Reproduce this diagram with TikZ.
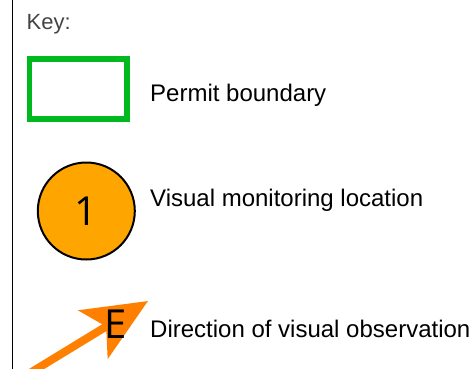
\documentclass[tikz,border=0pt]{standalone}
\usepackage{fontspec}
\setmainfont{Liberation Sans}
\newfontfamily\labfont{Open Sans}
\usetikzlibrary{arrows.meta}
\definecolor{keygray}{HTML}{444444}
\definecolor{permitgreen}{RGB}{0,185,30}
\definecolor{locorange}{HTML}{FFA500}
\definecolor{arroworange}{HTML}{FF8000}
\tikzset{
  keytext/.style={anchor=base west, inner sep=0pt, font=\fontsize{24}{28}\selectfont, text=black},
  keytitle/.style={anchor=base west, inner sep=0pt, font=\fontsize{22}{26}\selectfont, text=keygray},
  permitbox/.style={draw=permitgreen, line width=5.5pt, minimum width=97.5pt, minimum height=60pt, inner sep=0pt},
  locmark/.style={circle, draw=black, line width=2pt, fill=locorange, minimum size=97pt, inner sep=0pt, font=\labfont\fontsize{40}{44}\selectfont},
  obsarrow/.style={draw=arroworange, line width=8pt, -{Stealth[length=64pt, width=56pt, inset=15pt]}},
  obslabel/.style={inner sep=0pt, font=\labfont\fontsize{40}{44}\selectfont}
}
\begin{document}
\begin{tikzpicture}[x=1pt, y=-1pt]
\useasboundingbox (0,0) rectangle (471,368);
\fill[white] (0,0) rectangle (471,368);
\draw[line width=1.5pt, black] (12.5,-2) -- (12.5,370);
\node[keytitle] (key) at (26.5,29.3) {Key:};
\node[permitbox] (permit) at (78.25,89) {};
\node[keytext] (permittext) at (150,101.7) {Permit boundary};
\node[locmark] (loc) at (86.3,211) {1};
\node[keytext] (loctext) at (150,206) {Visual monitoring location};
\coordinate (arrstart) at (30,373);
\coordinate (arrtip) at (148,301);
\draw[obsarrow] (arrstart) -- (arrtip);
\node[obslabel] (obsE) at (115.5,324.5) {E};
\node[keytext] (obstext) at (150,337.3) {Direction of visual observation};
\end{tikzpicture}
\end{document}
